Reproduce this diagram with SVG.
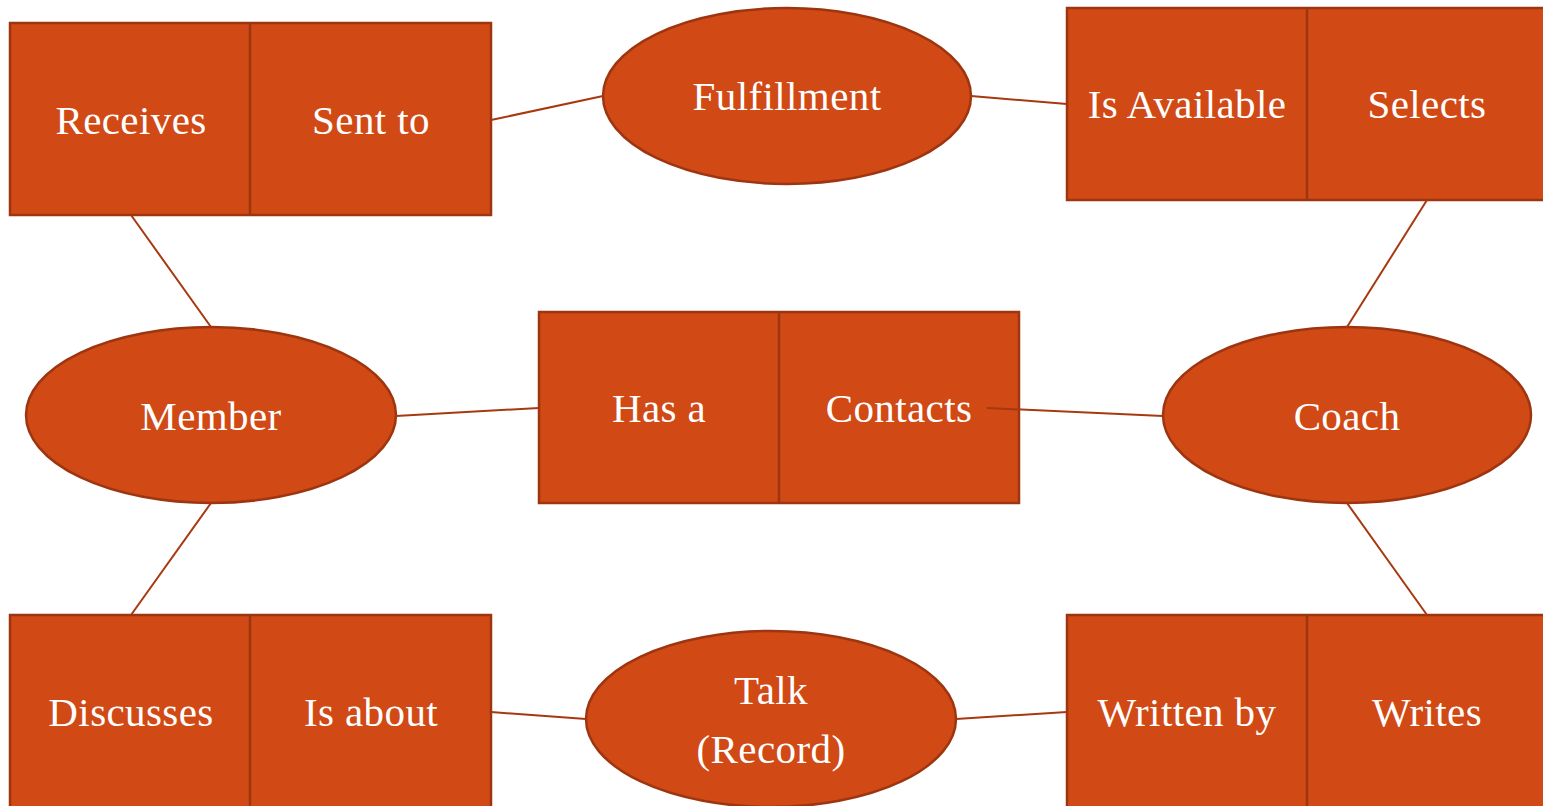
<svg xmlns="http://www.w3.org/2000/svg" width="1543" height="806" viewBox="0 0 1543 806">
  <style>
    .shape { fill: #D14915; stroke: #9E3511; stroke-width: 2.5; }
    .div { stroke: #9E3511; stroke-width: 2.5; }
    .lbl { fill: #FFFFFF; font-family: "Liberation Serif", "DejaVu Serif", serif; font-size: 41px; letter-spacing: 0.4px; text-anchor: middle; }
    .edge { stroke: #A8380F; stroke-width: 2; fill: none; }
  </style>
  <rect width="1543" height="806" fill="#FFFFFF"/>

  <!-- relationship boxes (two cells each) -->
  <g id="rel-receives-sent">
    <rect class="shape" x="10" y="23" width="481" height="192"/>
    <line class="div" x1="250" y1="23" x2="250" y2="215"/>
    <text class="lbl" x="131" y="134">Receives</text>
    <text class="lbl" x="371" y="134">Sent to</text>
  </g>

  <g id="rel-available-selects">
    <rect class="shape" x="1067" y="8" width="490" height="192"/>
    <line class="div" x1="1307" y1="8" x2="1307" y2="200"/>
    <text class="lbl" x="1187" y="118">Is Available</text>
    <text class="lbl" x="1427" y="118">Selects</text>
  </g>

  <g id="rel-has-contacts">
    <rect class="shape" x="539" y="312" width="480" height="191"/>
    <line class="div" x1="779" y1="312" x2="779" y2="503"/>
    <text class="lbl" x="659" y="422">Has a</text>
    <text class="lbl" x="899" y="422">Contacts</text>
  </g>

  <g id="rel-discusses-about">
    <rect class="shape" x="10" y="615" width="481" height="200"/>
    <line class="div" x1="250" y1="615" x2="250" y2="815"/>
    <text class="lbl" x="131" y="726">Discusses</text>
    <text class="lbl" x="371" y="726">Is about</text>
  </g>

  <g id="rel-written-writes">
    <rect class="shape" x="1067" y="615" width="490" height="200"/>
    <line class="div" x1="1307" y1="615" x2="1307" y2="815"/>
    <text class="lbl" x="1187" y="726">Written by</text>
    <text class="lbl" x="1427" y="726">Writes</text>
  </g>

  <!-- entities -->
  <g id="ent-fulfillment">
    <ellipse class="shape" cx="787" cy="96" rx="184" ry="88"/>
    <text class="lbl" x="787" y="110">Fulfillment</text>
  </g>

  <g id="ent-member">
    <ellipse class="shape" cx="211" cy="415" rx="185" ry="88"/>
    <text class="lbl" x="211" y="430">Member</text>
  </g>

  <g id="ent-coach">
    <ellipse class="shape" cx="1347" cy="415" rx="184" ry="88"/>
    <text class="lbl" x="1347" y="430">Coach</text>
  </g>

  <g id="ent-talk">
    <ellipse class="shape" cx="771" cy="719" rx="185" ry="88"/>
    <text class="lbl" x="771" y="704">Talk</text>
    <text class="lbl" x="771" y="763">(Record)</text>
  </g>

  <!-- connectors -->
  <g id="connectors">
    <line class="edge" x1="491" y1="120" x2="603" y2="96"/>
    <line class="edge" x1="971" y1="96" x2="1067" y2="104"/>
    <line class="edge" x1="131" y1="215" x2="211" y2="327"/>
    <line class="edge" x1="1427" y1="200" x2="1347" y2="327"/>
    <line class="edge" x1="396" y1="416" x2="539" y2="408"/>
    <line class="edge" x1="987" y1="408" x2="1163" y2="416"/>
    <line class="edge" x1="211" y1="503" x2="131" y2="615"/>
    <line class="edge" x1="1347" y1="503" x2="1427" y2="615"/>
    <line class="edge" x1="491" y1="712" x2="586" y2="719"/>
    <line class="edge" x1="956" y1="719" x2="1067" y2="712"/>
  </g>
</svg>
